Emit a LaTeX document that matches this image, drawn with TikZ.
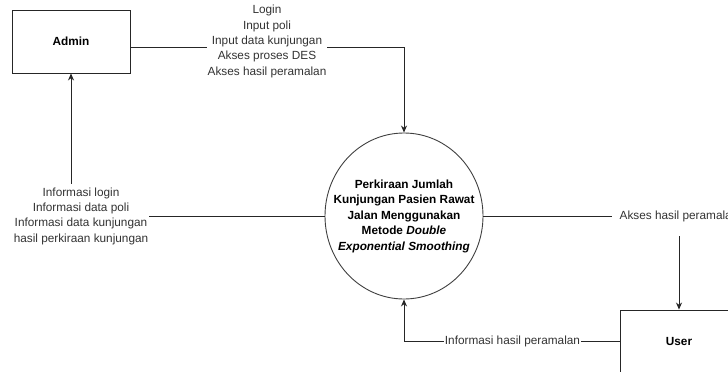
\documentclass[tikz,border=0pt]{standalone}
\usepackage{fontspec}
\setmainfont{Liberation Sans}
\usetikzlibrary{arrows.meta,shapes.geometric}
\tikzset{
  ent/.style={draw=black!85, line width=0.9pt, minimum width=118pt, minimum height=63pt, inner sep=0pt, font=\fontsize{11.8}{13}\selectfont\bfseries},
  proc/.style={draw=black!75, line width=0.9pt, ellipse, minimum width=158pt, minimum height=166pt, inner sep=0pt},
  proctext/.style={align=center, inner sep=0pt, font=\fontsize{11.8}{15.5}\selectfont\bfseries},
  flow/.style={draw=black!85, line width=0.8pt, -{Stealth[length=7pt,width=6pt]}},
  lbl/.style={fill=white, align=center, inner sep=1pt, text=black!80, font=\fontsize{11.8}{15.3}\selectfont}
}
\begin{document}
\begin{tikzpicture}[x=1pt,y=-1pt]
\useasboundingbox (0,0) rectangle (728,372);
\clip (0,0) rectangle (728,372);
\node[ent] (admin) at (71,41.5) {Admin};
\node[ent] (user) at (679,341.5) {User};
\node[proc] (p) at (404,216) {};
\node[proctext] (pt) at (404,216) {Perkiraan Jumlah\\Kunjungan Pasien Rawat\\Jalan Menggunakan\\Metode \textit{Double}\\\textit{Exponential Smoothing}};
\coordinate (a1) at ([yshift=-6pt]admin.east);
\coordinate (c1) at (p.north |- a1);
\coordinate (c2) at (admin.south |- p.west);
\coordinate (c3) at (user.north |- p.east);
\coordinate (c4) at (p.south |- user.west);
\draw[flow] (a1) -- (c1) -- (p.north);
\draw[flow] (p.west) -- (c2) -- (admin.south);
\draw[flow] (p.east) -- (c3) -- (user.north);
\draw[flow] (user.west) -- (c4) -- (p.south);
\node[lbl] (l1) at (267,41.5) {Login\\Input poli\\Input data kunjungan\\Akses proses DES\\Akses hasil peramalan};
\node[lbl, inner ysep=4pt] (l2) at (81,216) {Informasi login\\Informasi data poli\\Informasi data kunjungan\\hasil perkiraan kunjungan};
\node[lbl, inner xsep=8pt, inner ysep=14pt] (l3) at (679,216) {Akses hasil peramalan};
\node[lbl] (l4) at (512.5,341.5) {Informasi hasil peramalan};
\end{tikzpicture}
\end{document}
